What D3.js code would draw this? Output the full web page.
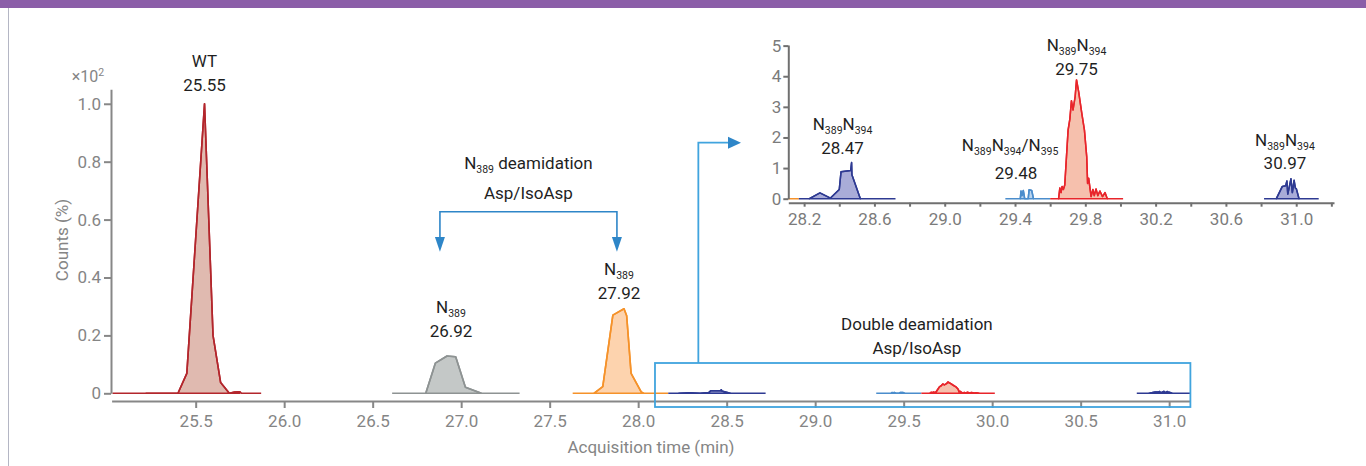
<!DOCTYPE html>
<html>
<head>
<meta charset="utf-8">
<script src="https://cdn.jsdelivr.net/npm/d3@7"></script>
<style>
  html, body { margin: 0; padding: 0; background: #fff; }
  svg { display: block; font-family: Roboto, "Noto Sans", sans-serif; }
</style>
</head>
<body>
<svg id="chart" width="1366" height="466"></svg>
<script>
// ---- Extracted ion chromatograms: [retention time (min), counts] ----
// Main panel counts are in units of x10^2 %.
const wtPoints = [[25.03,0],[25.22,0],[25.40,0],[25.45,0.069],[25.55,1.0],[25.598,0.20],[25.641,0.037],[25.69,0],[25.72,0.004],[25.75,0.005],[25.76,0],[25.87,0]];
const wtWindow = [25.22, 25.75];

const n389aPoints = [[26.61,0],[26.80,0],[26.854,0.104],[26.92,0.129],[26.969,0.126],[27.024,0.021],[27.114,0],[27.33,0]];
const n389aWindow = [26.80, 27.114];

const n389bPoints = [[27.63,0],[27.75,0],[27.80,0.023],[27.857,0.27],[27.92,0.292],[27.935,0.268],[27.96,0.069],[28.017,0.005],[28.03,0],[28.17,0]];
const n389bWindow = [27.75, 28.03];

// Double deamidation species, counts in % (inset units)
const dd1Points = [[28.17,0],[28.23,0],[28.29,0.19],[28.35,0.02],[28.40,0.30],[28.41,0.88],[28.465,0.92],[28.47,1.18],[28.472,0.78],[28.52,0],[28.72,0]];
const dd1Window = [28.23, 28.52];

const dd2Points = [[29.345,0],[29.43,0],[29.434,0.25],[29.44,0.10],[29.447,0.27],[29.455,0],[29.475,0],[29.48,0.29],[29.495,0.27],[29.505,0],[29.60,0]];
const dd2Window = [29.43, 29.505];

const dd3Points = [[29.60,0],[29.648,0],[29.655,0.35],[29.662,0.2],[29.668,0.4],[29.675,0.3],[29.683,0.45],[29.702,2.24],[29.712,2.6],[29.721,3.2],[29.730,2.9],[29.742,3.33],[29.75,3.88],[29.762,3.5],[29.78,2.79],[29.795,2.24],[29.808,1.37],[29.813,0.5],[29.819,0.67],[29.833,0.07],[29.843,0.3],[29.851,0.1],[29.861,0.32],[29.871,0.1],[29.883,0.25],[29.898,0.07],[29.912,0.2],[29.925,0],[30.015,0]];
const dd3Window = [29.648, 29.925];

const dd4Points = [[30.817,0],[30.887,0],[30.921,0.40],[30.940,0.42],[30.947,0.58],[30.952,0.15],[30.963,0.45],[30.97,0.65],[30.978,0.2],[30.988,0.6],[30.995,0.35],[31.001,0.32],[31.016,0],[31.128,0]];
const dd4Window = [30.887, 31.016];

// ---- Peak labels (name, retention time) ----
const mainPeakNames = ["WT", "N_389", "N_389"];
const mainPeakTimes = [25.55, 26.92, 27.92];
const insetPeakNames = ["N_389N_394", "N_389N_394/N_395", "N_389N_394", "N_389N_394"];
const insetPeakTimes = [28.47, 29.48, 29.75, 30.97];

// ---- Axis ticks ----
const mainTimeTicks = [25.5, 26.0, 26.5, 27.0, 27.5, 28.0, 28.5, 29.0, 29.5, 30.0, 30.5, 31.0];
const mainCountTicks = [0, 0.2, 0.4, 0.6, 0.8, 1.0];
const insetTimeTicks = [28.2, 28.4, 28.6, 28.8, 29.0, 29.2, 29.4, 29.6, 29.8, 30.0, 30.2, 30.4, 30.6, 30.8, 31.0, 31.2];
const insetCountTicks = [0, 1, 2, 3, 4, 5];

// ---- Trace styling ----
const palette = {
  wt:    { stroke: "#b3262c", fill: "#e0bab0" },
  gray:  { stroke: "#8e9393", fill: "#c4c8c7" },
  orange:{ stroke: "#f5922a", fill: "#fdd3ae" },
  navy:  { stroke: "#2e3a92", fill: "#a9acd8" },
  sky:   { stroke: "#4b8dcc", fill: "#bad4ee" },
  red:   { stroke: "#e8252b", fill: "#f6c0ad" }
};

const mainTraces = [
  { pts: wtPoints,    win: wtWindow,    style: palette.wt,     k: 1 },
  { pts: n389aPoints, win: n389aWindow, style: palette.gray,   k: 1 },
  { pts: n389bPoints, win: n389bWindow, style: palette.orange, k: 1 },
  { pts: dd1Points,   win: dd1Window,   style: palette.navy,   k: 0.01 },
  { pts: dd2Points,   win: dd2Window,   style: palette.sky,    k: 0.01 },
  { pts: dd3Points,   win: dd3Window,   style: palette.red,    k: 0.01 },
  { pts: dd4Points,   win: dd4Window,   style: palette.navy,   k: 0.01 }
];
const insetTraces = [
  { pts: n389bPoints, win: null,      style: palette.orange, k: 100 },
  { pts: dd1Points,   win: dd1Window, style: palette.navy,   k: 1 },
  { pts: dd2Points,   win: dd2Window, style: palette.sky,    k: 1 },
  { pts: dd3Points,   win: dd3Window, style: palette.red,    k: 1 },
  { pts: dd4Points,   win: dd4Window, style: palette.navy,   k: 1 }
];

const FS = 17;        // text size
const SUB = 10.5;     // subscript size

const svg = d3.select("#chart");
const W = 1366, H = 466;
svg.append("rect").attr("width", W).attr("height", H).attr("fill", "#fff");

// page frame: header band and left rule
svg.append("rect").attr("x", 0).attr("y", 0).attr("width", W).attr("height", 8).attr("fill", "#8b5ea8");
svg.append("line").attr("x1", 8.5).attr("x2", 8.5).attr("y1", 8).attr("y2", H)
  .attr("stroke", "#b4b6c4").attr("stroke-width", 1);

// ---- Scales ----
const x = d3.scaleLinear().domain([25.025, 31.12]).range([111.6, 1190.4]);
const y = d3.scaleLinear().domain([0, 1.05]).range([393.3, 89.3]);
const xi = d3.scaleLinear().domain([28.11, 31.215]).range([788.3, 1334]);
const yi = d3.scaleLinear().domain([0, 5.02]).range([198.7, 45]);

const defs = svg.append("defs");
defs.append("clipPath").attr("id", "clipMain").append("rect")
  .attr("x", x.range()[0]).attr("y", 0).attr("width", x.range()[1] - x.range()[0]).attr("height", H);
defs.append("clipPath").attr("id", "clipInset").append("rect")
  .attr("x", xi.range()[0]).attr("y", 0).attr("width", xi.range()[1] - xi.range()[0]).attr("height", H);

function drawTraces(g, traces, xs, ys, sw) {
  traces.forEach(tr => {
    const data = tr.pts.map(p => [p[0], p[1] * tr.k]);
    if (tr.win) {
      const seg = data.filter(p => p[0] >= tr.win[0] && p[0] <= tr.win[1]);
      const area = d3.area().x(d => xs(d[0])).y0(ys(0)).y1(d => ys(d[1]));
      g.append("path").attr("d", area(seg))
        .attr("fill", tr.style.fill).attr("stroke", tr.style.stroke)
        .attr("stroke-width", sw).attr("stroke-linejoin", "round");
    }
    const line = d3.line().x(d => xs(d[0])).y(d => ys(d[1]));
    g.append("path").attr("d", line(data)).attr("fill", "none")
      .attr("stroke", tr.style.stroke).attr("stroke-width", sw).attr("stroke-linejoin", "round");
  });
}

function styleAxis(g, color, labelColor) {
  g.select(".domain").attr("stroke", color).attr("stroke-width", 2);
  g.selectAll(".tick line").attr("stroke", color).attr("stroke-width", 2);
  g.selectAll(".tick text").attr("fill", labelColor).attr("font-size", FS)
    .attr("font-family", 'Roboto, "Noto Sans", sans-serif');
}

// text with "_123" subscripts
function richText(sel, str, subSize) {
  const parts = str.split(/(_\d+)/).filter(s => s.length);
  let low = false;
  parts.forEach(p => {
    const sub = p[0] === "_";
    const t = sel.append("tspan").text(sub ? p.slice(1) : p);
    if (sub) {
      t.attr("font-size", subSize);
      if (!low) { t.attr("dy", 4); low = true; }
    } else if (low) { t.attr("dy", -4); low = false; }
  });
  return sel;
}

function label(g, px, py, str, opts = {}) {
  const t = g.append("text").attr("x", px).attr("y", py + 0.35 * FS)
    .attr("text-anchor", opts.anchor || "middle")
    .attr("font-size", opts.size || FS)
    .attr("fill", opts.color || "#1f1f1f");
  richText(t, str, SUB);
  return t;
}

// ---- Main panel ----
const main = svg.append("g");
drawTraces(main.append("g").attr("clip-path", "url(#clipMain)"), mainTraces, x, y, 1.6);

const gx = main.append("g").attr("transform", "translate(0,401)")
  .call(d3.axisBottom(x).tickValues(mainTimeTicks).tickSize(7).tickSizeOuter(0).tickPadding(7)
    .tickFormat(d3.format(".1f")));
styleAxis(gx, "#878787", "#858585");

const gy = main.append("g").attr("transform", "translate(111,0)")
  .call(d3.axisLeft(y).tickValues(mainCountTicks).tickSize(7).tickSizeOuter(0).tickPadding(3)
    .tickFormat(d => d === 0 ? "0" : d3.format(".1f")(d)));
styleAxis(gy, "#878787", "#858585");

// scale factor note above the count axis
const mult = main.append("text").attr("x", 88).attr("y", 82).attr("text-anchor", "middle")
  .attr("font-size", 16).attr("fill", "#858585");
mult.append("tspan").text("×10");
mult.append("tspan").attr("font-size", 10.5).attr("dy", -6).text("2");

main.append("text").attr("transform", "translate(62,240) rotate(-90)")
  .attr("text-anchor", "middle").attr("dy", "0.35em").attr("font-size", FS).attr("fill", "#858585")
  .text("Counts (%)");
main.append("text").attr("x", 651).attr("y", 447 + 0.35 * FS).attr("text-anchor", "middle")
  .attr("font-size", FS).attr("fill", "#858585").text("Acquisition time (min)");

// peak labels: apex value from each trace, placed above the apex
const mainApex = [wtPoints, n389aPoints, n389bPoints].map(p => d3.max(p, d => d[1]));
const mainGap = [19, 25, 15.5], mainDx = [0, 4, -5];
mainPeakTimes.forEach((rt, i) => {
  const cx = x(rt) + mainDx[i];
  const cy = y(mainApex[i]) - mainGap[i];
  label(main, cx, cy, d3.format(".2f")(rt));
  label(main, cx, cy - 24, mainPeakNames[i]);
});

// single-deamidation bracket
const br = main.append("g").attr("stroke", "#2e86c8").attr("fill", "#2e86c8");
const bx0 = x(mainPeakTimes[1] - 0.04), bx1 = x(mainPeakTimes[2] - 0.04);
br.append("path").attr("fill", "none").attr("stroke-width", 1.6)
  .attr("d", `M${bx0},240 V211.7 H${bx1} V240`);
[bx0, bx1].forEach(bx => {
  br.append("path").attr("stroke", "none").attr("d", `M${bx - 5},237 L${bx + 5},237 L${bx},251.7 Z`);
});
label(main, (bx0 + bx1) / 2, 163, "N_389 deamidation");
label(main, (bx0 + bx1) / 2, 193, "Asp/IsoAsp");

// double-deamidation region
const boxX0 = x(28.095), boxX1 = x.range()[1];
main.append("rect").attr("x", boxX0).attr("y", 363).attr("width", boxX1 - boxX0).attr("height", 44)
  .attr("fill", "none").attr("stroke", "#40a4de").attr("stroke-width", 1.8);
label(main, x(29.575), 324, "Double deamidation");
label(main, x(29.575), 348, "Asp/IsoAsp");

// connector to the zoomed panel
const cxn = x(28.34);
main.append("path").attr("fill", "none").attr("stroke", "#40a4de").attr("stroke-width", 1.8)
  .attr("d", `M${cxn},363 V142.7 H730`);
main.append("path").attr("fill", "#2e86c8").attr("d", "M728,136.7 L741,142.7 L728,148.7 Z");

// ---- Inset panel (double deamidation, counts in %) ----
const inset = svg.append("g");
drawTraces(inset.append("g").attr("clip-path", "url(#clipInset)"), insetTraces, xi, yi, 1.5);

const gxi = inset.append("g").attr("transform", "translate(0,202.7)")
  .call(d3.axisBottom(xi).tickValues(insetTimeTicks).tickSize(4).tickSizeOuter(0).tickPadding(6)
    .tickFormat((d, i) => i % 2 === 0 ? d3.format(".1f")(d) : ""));
styleAxis(gxi, "#707070", "#7b7b7b");

const gyi = inset.append("g").attr("transform", "translate(788.3,0)")
  .call(d3.axisLeft(yi).tickValues(insetCountTicks).tickSize(5).tickSizeOuter(0).tickPadding(2)
    .tickFormat(d3.format("d")));
styleAxis(gyi, "#707070", "#7b7b7b");

const insetApex = [dd1Points, dd2Points, dd3Points, dd4Points].map(p => d3.max(p, d => d[1]));
const insetGap = [15, 16.5, 11, 15.5], insetDx = [-9, -13, 0, -6], insetLine = [24, 28, 24, 23];
const insetNameDx = [0, -6, 0, 0];
insetPeakTimes.forEach((rt, i) => {
  const cx = xi(rt) + insetDx[i];
  const cy = yi(insetApex[i]) - insetGap[i];
  label(inset, cx, cy, d3.format(".2f")(rt));
  label(inset, cx + insetNameDx[i], cy - insetLine[i], insetPeakNames[i]);
});
</script>
</body>
</html>
